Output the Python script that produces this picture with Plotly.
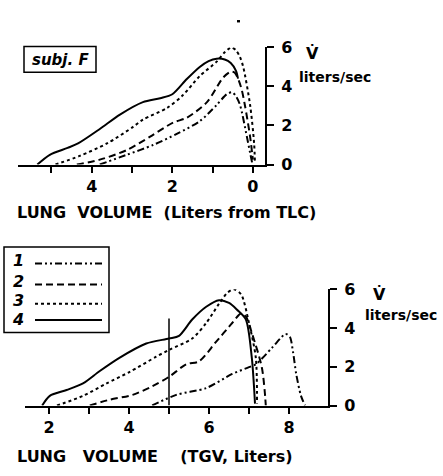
import plotly.graph_objects as go

W, H = 443, 476

# ---------------- data ----------------
# Top panel: lung volume (liters from TLC) vs flow (liters/sec)
top_x_ticks = [0, 1, 2, 3, 4, 5]
top_x_ticktext = ["0", "", "2", "", "4", ""]
y_ticks = [0, 2, 4, 6]
y_ticktext = ["0", "2", "4", "6"]

top1_x = [3.8, 3.13, 2.48, 1.89, 1.32, 0.9, 0.65, 0.52, 0.42, 0.32, 0.15, 0.07, 0.02]
top1_y = [0, 0.5, 1.0, 1.57, 2.22, 3.05, 3.6, 3.7, 3.5, 3.05, 1.43, 0.6, 0.1]

top2_x = [4.37, 3.8, 3.13, 2.55, 1.98, 1.64, 1.14, 0.74, 0.55, 0.45, 0.3, 0.2, 0.07, 0.0]
top2_y = [0, 0.25, 0.74, 1.43, 2.15, 2.4, 3.2, 4.45, 4.75, 4.7, 4.0, 3.05, 1.43, 0.25]

top3_x = [4.9, 4.3, 3.62, 2.98, 2.73, 2.13, 1.74, 1.32, 0.9, 0.7, 0.53, 0.42, 0.32, 0.24, 0.07, -0.03, -0.05]
top3_y = [0, 0.44, 1.08, 1.92, 2.3, 2.9, 3.55, 4.53, 5.27, 5.75, 6.0, 5.85, 5.5, 5.0, 3.05, 1.08, 0.1]

top4_x = [5.35, 5.04, 4.6, 4.34, 3.8, 3.3, 2.73, 2.3, 2.0, 1.64, 1.32, 1.1, 0.9, 0.7, 0.55, 0.42, 0.37]
top4_y = [0, 0.5, 0.85, 1.08, 1.82, 2.56, 3.2, 3.4, 3.6, 4.38, 5.0, 5.3, 5.42, 5.38, 5.2, 4.8, 4.4]

# Bottom panel: lung volume (TGV, liters) vs flow (liters/sec)
bot_x_ticks = [2, 3, 4, 5, 6, 7, 8]
bot_x_ticktext = ["2", "", "4", "", "6", "", "8"]

bot1_x = [4.58, 5.18, 5.93, 6.58, 7.0, 7.17, 7.57, 7.8, 7.91, 8.02, 8.1, 8.18, 8.3, 8.4]
bot1_y = [0, 0.55, 0.9, 1.63, 1.98, 2.13, 2.97, 3.5, 3.7, 3.55, 2.77, 1.63, 0.5, 0]

bot2_x = [3.02, 3.52, 4.09, 4.58, 5.0, 5.43, 5.75, 6.17, 6.58, 6.8, 6.92, 7.07, 7.32, 7.39, 7.42]
bot2_y = [0, 0.3, 0.55, 0.99, 1.48, 2.13, 2.28, 3.27, 4.26, 4.75, 4.6, 3.76, 1.98, 0.8, 0]

bot3_x = [2.2, 2.85, 3.44, 4.01, 4.68, 5.0, 5.58, 5.93, 6.25, 6.45, 6.62, 6.8, 7.0, 7.17, 7.2]
bot3_y = [0, 0.5, 1.14, 1.73, 2.52, 2.87, 3.46, 4.26, 5.25, 5.8, 6.0, 5.75, 4.26, 2.47, 0.1]

bot4_x = [1.83, 2.02, 2.44, 2.85, 3.27, 3.76, 4.43, 5.0, 5.25, 5.58, 5.93, 6.25, 6.5, 6.7, 6.92, 7.07, 7.12, 7.15]
bot4_y = [0, 0.5, 0.8, 1.14, 1.78, 2.46, 3.2, 3.46, 3.6, 4.44, 5.1, 5.44, 5.3, 4.95, 4.45, 2.47, 1.14, 0.1]

marker_line_x = [5, 5]
marker_line_y = [0, 4.5]

legend_labels = ["1", "2", "3", "4"]

# ---------------- styles ----------------
DASH = {
    "1": "7px,3px,2px,3px,2px,3px",
    "2": "7px,4px",
    "3": "3px,3px",
    "4": "solid",
}
FONT = "DejaVu Sans"


def px(x):
    return x / W


def py(y):
    return 1 - y / H


fig = go.Figure()


def add_curve(x, y, key, xa, ya):
    fig.add_trace(go.Scatter(
        x=x, y=y, mode="lines", xaxis=xa, yaxis=ya, showlegend=False,
        line=dict(color="black", width=2, dash=DASH[key], shape="spline", smoothing=0.8),
        hoverinfo="skip"))


add_curve(top1_x, top1_y, "1", "x", "y")
add_curve(top2_x, top2_y, "2", "x", "y")
add_curve(top3_x, top3_y, "3", "x", "y")
add_curve(top4_x, top4_y, "4", "x", "y")

add_curve(bot1_x, bot1_y, "1", "x2", "y2")
add_curve(bot2_x, bot2_y, "2", "x2", "y2")
add_curve(bot3_x, bot3_y, "3", "x2", "y2")
add_curve(bot4_x, bot4_y, "4", "x2", "y2")

fig.add_trace(go.Scatter(x=marker_line_x, y=marker_line_y, mode="lines", xaxis="x2", yaxis="y2",
                         showlegend=False, line=dict(color="black", width=1.5), hoverinfo="skip"))

tickfont = dict(family=FONT, size=16, color="black", weight="bold")
xcommon = dict(showgrid=False, zeroline=False, showline=True, linecolor="black", linewidth=2,
               ticks="outside", ticklen=6, tickwidth=2, tickcolor="black", tickfont=tickfont)
ycommon = dict(showgrid=False, zeroline=False, showline=True, linecolor="black", linewidth=2,
               ticks="outside", ticklen=7, tickwidth=2, tickcolor="black", tickfont=tickfont,
               side="right", range=[0, 6], tickvals=y_ticks, ticktext=y_ticktext,
               ticklabelstandoff=4)

fig.update_layout(
    width=W, height=H, autosize=False,
    margin=dict(l=0, r=0, t=0, b=0),
    paper_bgcolor="white", plot_bgcolor="white",
    xaxis=dict(domain=[px(18), px(265)], range=[5.83, -0.3], anchor="y",
               tickvals=top_x_ticks, ticktext=top_x_ticktext, **xcommon),
    yaxis=dict(domain=[py(162), py(40)], anchor="x", **ycommon),
    xaxis2=dict(domain=[px(25), px(328)], range=[1.4, 8.975], anchor="y2",
                tickvals=bot_x_ticks, ticktext=bot_x_ticktext, **xcommon),
    yaxis2=dict(domain=[py(413), py(292)], anchor="x2", **ycommon),
)

ann = []
shapes = []


def text(x, y, s, size=16, xanchor="left", italic=False, weight="bold"):
    ann.append(dict(x=px(x), y=py(y), xref="paper", yref="paper", text=s, showarrow=False,
                    xanchor=xanchor, yanchor="middle",
                    font=dict(family=FONT, size=size, color="black", weight=weight,
                              style="italic" if italic else "normal")))


NB = "\u00a0"
# axis titles
text(15, 212, "LUNG" + NB * 2 + "VOLUME" + NB * 2 + "(Liters from TLC)")
text(15, 466, "LUNG" + NB * 3 + "VOLUME" + NB * 4 + "(TGV," + NB + "Liters)")

# flow labels
text(312, 46, "V\u0307", size=16, xanchor="center")
text(297, 71, "liters/sec", size=14)
text(379, 297, "V\u0307", size=16, xanchor="center")
text(363, 319, "liters/sec", size=14)

# subject box
shapes.append(dict(type="rect", xref="paper", yref="paper", x0=px(24), x1=px(96), y0=py(66), y1=py(39),
                   line=dict(color="black", width=1.5)))
text(60, 53, "subj. F", size=15, xanchor="center", italic=True)

# legend box
shapes.append(dict(type="rect", xref="paper", yref="paper", x0=px(4), x1=px(109), y0=py(337), y1=py(248),
                   line=dict(color="black", width=1.5)))
leg_text_y = [262, 284, 304, 323]
leg_line_y = [265, 287, 307, 324]
for lab, ty, ly in zip(legend_labels, leg_text_y, leg_line_y):
    text(18, ty, lab, size=16, xanchor="center", italic=True)
    shapes.append(dict(type="line", xref="paper", yref="paper", x0=px(35), x1=px(102), y0=py(ly), y1=py(ly),
                       line=dict(color="black", width=2, dash=DASH[lab])))

# stray printing dot
shapes.append(dict(type="rect", xref="paper", yref="paper", x0=px(237), x1=px(240), y0=py(14), y1=py(11.5),
                   fillcolor="black", line=dict(width=0)))

fig.update_layout(annotations=ann, shapes=shapes)
fig.write_html("out.html")
